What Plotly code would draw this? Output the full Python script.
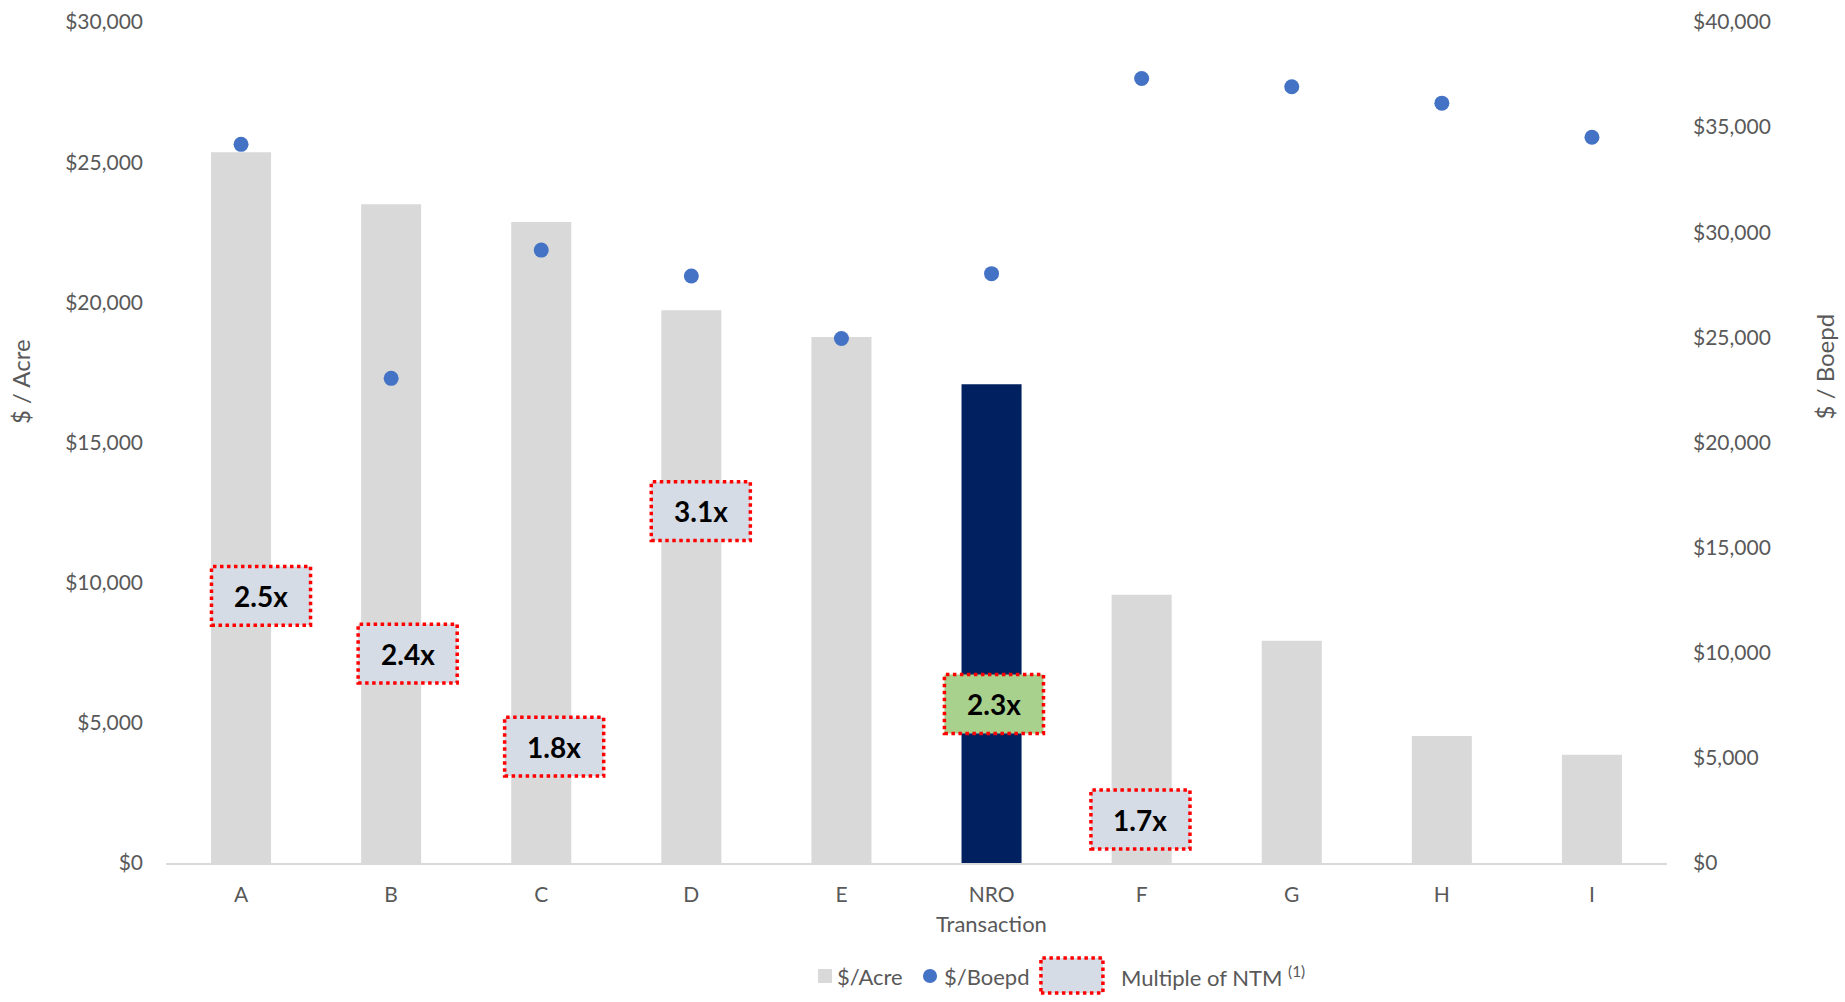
import plotly.graph_objects as go

categories = ["A", "B", "C", "D", "E", "NRO", "F", "G", "H", "I"]
usd_per_acre = [25350, 23500, 22870, 19720, 18760, 17080, 9570, 7930, 4530, 3860]
usd_per_boepd = [34180, 23050, 29150, 27920, 24950, 28030, 37310, 36920, 36140, 34520]

multiple_cats = ["A", "B", "C", "D", "NRO", "F"]
multiple_labels = ["2.5x", "2.4x", "1.8x", "3.1x", "2.3x", "1.7x"]
# label box centres (placement, in $/Acre axis units and category offsets)
label_y = [9530, 7470, 4150, 12550, 5670, 1550]
label_dx = [0.133, 0.11, 0.086, 0.063, 0.016, -0.008]

GREY_TXT = "#595959"
FONT = "Lato, 'Open Sans', sans-serif"
BAR_GREY = "#D9D9D9"
NAVY = "#002060"
DOT_BLUE = "#4472C4"
BOX_FILL = "#D6DCE5"
BOX_GREEN = "#A9D18E"
RED = "#FF0000"

bar_colors = [NAVY if c == "NRO" else BAR_GREY for c in categories]

fig = go.Figure()
fig.add_trace(go.Bar(
    x=categories, y=usd_per_acre, name="$/Acre",
    marker=dict(color=bar_colors, line=dict(width=0)),
    yaxis="y", hoverinfo="skip", showlegend=False,
))
fig.add_trace(go.Scatter(
    x=categories, y=usd_per_boepd, name="$/Boepd", mode="markers",
    marker=dict(color=DOT_BLUE, size=15),
    yaxis="y2", hoverinfo="skip", showlegend=False,
))

box_w = 0.66
box_h = 2100
for cat, lab, yc, dx in zip(multiple_cats, multiple_labels, label_y, label_dx):
    xi = categories.index(cat) + dx
    fill = BOX_GREEN if cat == "NRO" else BOX_FILL
    fig.add_shape(type="rect", xref="x", yref="y",
                  x0=xi - box_w / 2, x1=xi + box_w / 2,
                  y0=yc - box_h / 2, y1=yc + box_h / 2,
                  fillcolor=fill, line=dict(color=RED, width=3.5, dash="dot"),
                  layer="above")
    fig.add_annotation(x=xi, y=yc, xref="x", yref="y", text="<b>%s</b>" % lab,
                       showarrow=False, xanchor="center", yanchor="middle",
                       font=dict(family=FONT, size=28, color="#000000"))

# ---- legend (drawn manually to reproduce the dotted box entry) ----
LEG_Y = -0.1344
leg_font = dict(family=FONT, size=22, color=GREY_TXT)
fig.add_shape(type="rect", xref="paper", yref="paper",
              x0=0.4344, x1=0.4437, y0=-0.1427, y1=-0.1260,
              fillcolor=BAR_GREY, line=dict(width=0))
fig.add_annotation(x=0.4460, y=LEG_Y, xref="paper", yref="paper",
                   xanchor="left", yanchor="middle", showarrow=False,
                   text="$/Acre", font=leg_font)
fig.add_shape(type="circle", xref="paper", yref="paper",
              x0=0.5043, x1=0.5137, y0=-0.1427, y1=-0.1260,
              fillcolor=DOT_BLUE, line=dict(width=0))
fig.add_annotation(x=0.5167, y=LEG_Y, xref="paper", yref="paper",
                   xanchor="left", yanchor="middle", showarrow=False,
                   text="$/Boepd", font=leg_font)
fig.add_shape(type="rect", xref="paper", yref="paper",
              x0=0.5829, x1=0.6242, y0=-0.1546, y1=-0.1130,
              fillcolor=BOX_FILL, line=dict(color=RED, width=3.5, dash="dot"))
fig.add_annotation(x=0.6352, y=LEG_Y, xref="paper", yref="paper",
                   xanchor="left", yanchor="middle", showarrow=False,
                   text="Multiple of NTM <sup>(1)</sup>", font=leg_font)

# ---- axis titles ----
title_font = dict(family=FONT, size=24, color=GREY_TXT)
fig.add_annotation(x=-0.0966, y=0.572, xref="paper", yref="paper", textangle=-90,
                   xanchor="center", yanchor="middle",
                   text="$ / Acre", showarrow=False, font=title_font)
fig.add_annotation(x=1.105, y=0.590, xref="paper", yref="paper", textangle=-90,
                   xanchor="center", yanchor="middle",
                   text="$ / Boepd", showarrow=False, font=title_font)
fig.add_annotation(x=0.550, y=-0.0725, xref="paper", yref="paper",
                   xanchor="center", yanchor="middle",
                   text="Transaction", showarrow=False,
                   font=dict(family=FONT, size=22, color=GREY_TXT))

fig.update_layout(
    width=1845, height=1002,
    margin=dict(l=166, r=178, t=22, b=139),
    paper_bgcolor="white", plot_bgcolor="white",
    font=dict(family=FONT, size=21, color=GREY_TXT),
    bargap=0.6,
    showlegend=False,
    xaxis=dict(
        type="category", range=[-0.5, len(categories) - 0.5],
        showgrid=False, showline=True, linecolor=BAR_GREY, linewidth=1.5,
        ticks="", ticklabelstandoff=12, tickfont=dict(size=21, color=GREY_TXT),
        zeroline=False, automargin=False,
    ),
    yaxis=dict(
        range=[0, 30000], dtick=5000, tickprefix="$", tickformat=",",
        showgrid=False, zeroline=False, showline=False, automargin=False,
        ticks="", ticklabelstandoff=22, tickfont=dict(size=21, color=GREY_TXT),
    ),
    yaxis2=dict(
        range=[0, 40000], dtick=5000, tickprefix="$", tickformat=",",
        overlaying="y", side="right", automargin=False,
        showgrid=False, zeroline=False, showline=False,
        ticks="", ticklabelstandoff=25, tickfont=dict(size=21, color=GREY_TXT),
    ),
)

fig.write_html("out.html")
